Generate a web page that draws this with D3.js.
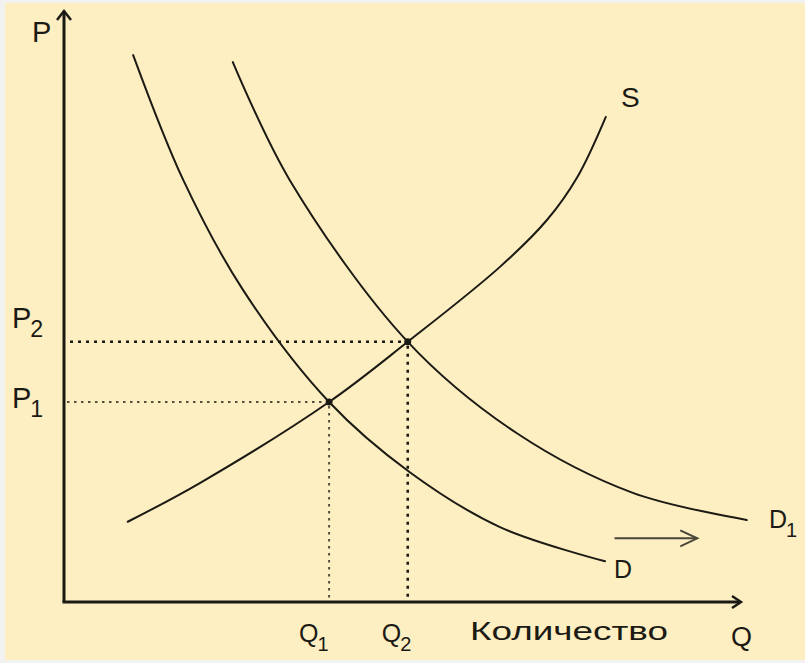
<!DOCTYPE html>
<html>
<head>
<meta charset="utf-8">
<script src="https://cdn.jsdelivr.net/npm/d3@7"></script>
<style>
  html, body { margin: 0; padding: 0; background: #f2f2f2; }
  svg { display: block; }
</style>
</head>
<body>
<svg id="chart"></svg>
<script>
// Supply and demand shift: D -> D1, equilibrium moves from (Q1,P1) to (Q2,P2)

const W = 805, H = 663;

// curve points, in chart units (Q across, P up)
const demandQ  = [1.02, 1.76, 2.64, 3.91, 5.10, 6.43, 7.98];
const demandP  = [9.27, 7.15, 5.29, 3.39, 2.20, 1.27, 0.69];
const demand1Q = [2.49, 3.33, 5.07, 6.68, 8.39, 10.07];
const demand1P = [9.15, 7.15, 4.41, 2.86, 1.85, 1.39];
const supplyQ  = [0.94, 2.01, 3.91, 5.07, 6.43, 7.12, 7.57, 7.99];
const supplyP  = [1.36, 2.02, 3.39, 4.41, 5.68, 6.47, 7.20, 8.22];

// equilibria
const eqNames = ["1", "2"];
const eqQ = [3.91, 5.07];
const eqP = [3.39, 4.41];

// shift arrow
const shiftQ = [8.12, 9.34];
const shiftP = 1.08;

const svg = d3.select("#chart").attr("width", W).attr("height", H);

// paper
svg.append("rect").attr("width", W).attr("height", H).attr("fill", "#f2f2f2");
svg.append("rect").attr("x", 5).attr("y", 3).attr("width", W - 5).attr("height", 657)
  .attr("fill", "#fdefc1");

const x = d3.scaleLinear().domain([0, 10]).range([64, 742]);
const y = d3.scaleLinear().domain([0, 10]).range([602, 12]);

const INK = "#1b1a14";
const FONT = "'Liberation Sans', Arial, sans-serif";

// axes
svg.append("line")
  .attr("x1", x(0)).attr("y1", y(0)).attr("x2", x(0)).attr("y2", y(10) - 1)
  .attr("stroke", INK).attr("stroke-width", 3);
svg.append("path")
  .attr("d", `M${x(0) - 7},${y(10) + 8} L${x(0)},${y(10) - 1} L${x(0) + 7},${y(10) + 8}`)
  .attr("fill", "none").attr("stroke", INK).attr("stroke-width", 2.5);
svg.append("line")
  .attr("x1", x(0) - 1.5).attr("y1", y(0)).attr("x2", x(10) - 2).attr("y2", y(0))
  .attr("stroke", INK).attr("stroke-width", 3);
svg.append("path")
  .attr("d", `M${x(10) - 10},${y(0) - 6} L${x(10) - 1},${y(0)} L${x(10) - 10},${y(0) + 6}`)
  .attr("fill", "none").attr("stroke", INK).attr("stroke-width", 2.5);

// dotted guides
const guides = [
  { i: 1, dash: "3 5", w: 2.6, op: 1, x0: 6 },
  { i: 0, dash: "2.5 4.5", w: 2, op: 0.75, x0: 3 }
];
guides.forEach(g => {
  svg.append("line")
    .attr("x1", x(0) + g.x0).attr("x2", x(eqQ[g.i])).attr("y1", y(eqP[g.i])).attr("y2", y(eqP[g.i]))
    .attr("stroke", INK).attr("stroke-width", g.w).attr("stroke-dasharray", g.dash)
    .attr("opacity", g.op);
  svg.append("line")
    .attr("x1", x(eqQ[g.i])).attr("x2", x(eqQ[g.i])).attr("y1", y(eqP[g.i]) + 4).attr("y2", y(0) - 4)
    .attr("stroke", INK).attr("stroke-width", g.w).attr("stroke-dasharray", g.dash)
    .attr("opacity", g.op);
});

// curves
const line = d3.line()
  .x(d => x(d[0])).y(d => y(d[1]))
  .curve(d3.curveCatmullRom.alpha(0.5));

[[demandQ, demandP], [demand1Q, demand1P], [supplyQ, supplyP]].forEach(([qs, ps]) => {
  svg.append("path")
    .attr("d", line(qs.map((q, i) => [q, ps[i]])))
    .attr("fill", "none").attr("stroke", INK).attr("stroke-width", 2)
    .attr("stroke-linecap", "round");
});

// equilibrium dots
svg.selectAll("circle.eq").data(eqNames).enter().append("circle")
  .attr("class", "eq")
  .attr("cx", (d, i) => x(eqQ[i])).attr("cy", (d, i) => y(eqP[i]))
  .attr("r", 3.5).attr("fill", INK);

// shift arrow
svg.append("line")
  .attr("x1", x(shiftQ[0])).attr("x2", x(shiftQ[1])).attr("y1", y(shiftP)).attr("y2", y(shiftP))
  .attr("stroke", "#4a463a").attr("stroke-width", 2);
svg.append("path")
  .attr("d", `M${x(shiftQ[1]) - 17},${y(shiftP) - 8} L${x(shiftQ[1])},${y(shiftP)} L${x(shiftQ[1]) - 17},${y(shiftP) + 8}`)
  .attr("fill", "none").attr("stroke", "#4a463a").attr("stroke-width", 2);

// labels
function label(tx, ty, main, sub, size) {
  const t = svg.append("text")
    .attr("x", tx).attr("y", ty)
    .attr("font-family", FONT).attr("font-size", size).attr("fill", INK)
    .text(main);
  if (sub) {
    t.append("tspan").attr("dy", 9).attr("dx", -1).attr("font-size", size * 0.8).text(sub);
  }
  return t;
}

label(32, 42, "P", null, 29);
label(12, 328, "P", eqNames[1], 29);
label(12, 408, "P", eqNames[0], 29);
label(x(eqQ[0]) - 30, 642, "Q", eqNames[0], 25);
label(x(eqQ[1]) - 26, 642, "Q", eqNames[1], 25);
label(731, 646, "Q", null, 27);
label(621, 107, "S", null, 28);
label(614, 578, "D", null, 25);
label(769, 528, "D", "1", 25);

svg.append("text")
  .attr("x", 470).attr("y", 640)
  .attr("font-family", FONT).attr("font-size", 25).attr("fill", INK)
  .attr("textLength", 198).attr("lengthAdjust", "spacingAndGlyphs")
  .text("Количество");
</script>
</body>
</html>
